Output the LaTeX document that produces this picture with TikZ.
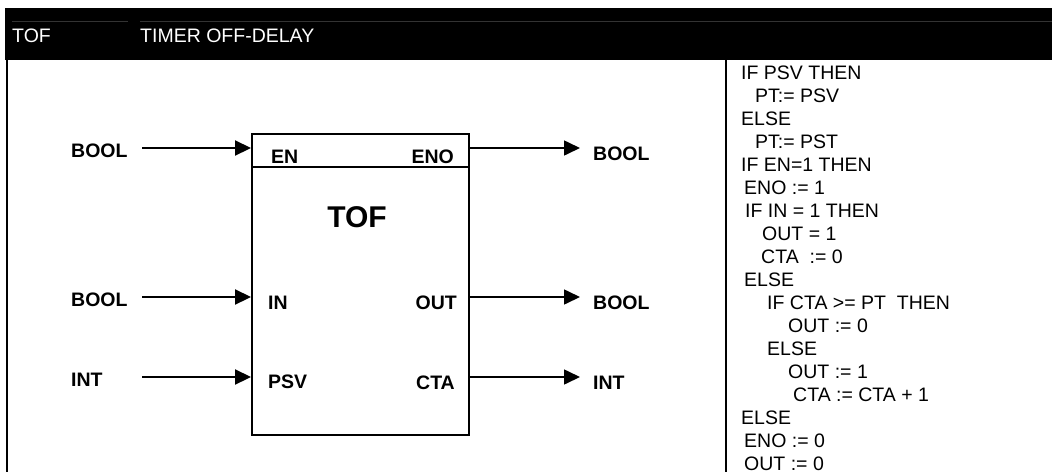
\documentclass[tikz,border=0pt]{standalone}
\usepackage{fontspec}
\setmainfont{Liberation Sans}
\usetikzlibrary{arrows.meta}

\begin{document}
\begin{tikzpicture}[x=1pt, y=-1pt, inner sep=0pt,
        every node/.append style={font=\fontsize{19.5}{23}\selectfont}]
      \tikzstyle{port} = [font=\fontsize{19.5}{23}\selectfont\bfseries, anchor=base west]
      \tikzstyle{portr} = [font=\fontsize{19.5}{23}\selectfont\bfseries, anchor=base east]
      \tikzstyle{inwire} = [line width=2.2pt, -{Triangle[length=16pt,width=15pt]}]
      \tikzstyle{outwire} = [line width=1.6pt, -{Triangle[length=16pt,width=15pt]}]
      \useasboundingbox (0,0) rectangle (1052,472);
      % header
      \fill[black] (5,8) rectangle (1052,60);
      \draw[gray!40!black, line width=0.8pt] (12,21) -- (128,21) (140,21) -- (1052,21);
      \node (hName) [white, anchor=base west] at (12,42) {TOF};
      \node (hTitle) [white, anchor=base west] at (140,42) {TIMER OFF-DELAY};
      % frame lines
      \draw[line width=2pt] (7,8) -- (7,472);
      \draw[line width=2pt] (726,60) -- (726,472);
      % function block
      \node (fb) [draw, line width=2pt, anchor=north west, minimum width=217pt, minimum height=301pt] at (251,133) {};
      \draw[line width=2pt] (fb.west |- 0,167) -- (fb.east |- 0,167);
      \node (fbName) [font=\fontsize{30}{30}\selectfont\bfseries, anchor=base] at (357,227) {TOF};
      \node (pEN) [port] at (271,163) {EN};
      \node (pIN) [port] at (268,309) {IN};
      \node (pPSV) [port] at (268,388) {PSV};
      \node (pENO) [portr] at (454,163) {ENO};
      \node (pOUT) [portr] at (457,309) {OUT};
      \node (pCTA) [portr] at (455,389) {CTA};
      % inputs
      \node (tEN) [port] at (71,157) {BOOL};
      \node (tIN) [port] at (71,306) {BOOL};
      \node (tPSV) [port] at (71,386) {INT};
      \coordinate (sEN) at (142,148);
      \coordinate (sIN) at (142,297);
      \coordinate (sPSV) at (142,377);
      \draw[inwire] (sEN) -- (sEN -| fb.west);
      \draw[inwire] (sIN) -- (sIN -| fb.west);
      \draw[inwire] (sPSV) -- (sPSV -| fb.west);
      % outputs
      \node (tENO) [port] at (593,160) {BOOL};
      \node (tOUT) [port] at (593,309) {BOOL};
      \node (tCTA) [port] at (593,389) {INT};
      \coordinate (eENO) at (580,148);
      \coordinate (eOUT) at (580,297);
      \coordinate (eCTA) at (580,377);
      \draw[outwire] (eENO -| fb.east) -- (eENO);
      \draw[outwire] (eOUT -| fb.east) -- (eOUT);
      \draw[outwire] (eCTA -| fb.east) -- (eCTA);
      % structured text
      \foreach \i/\x/\t in {0/741/IF PSV THEN, 1/755/PT:= PSV, 2/741/ELSE, 3/755/PT:= PST,
          4/741/IF EN=1 THEN, 5/744/ENO := 1, 6/745/IF IN = 1 THEN, 7/762/OUT = 1,
          8/761/CTA~~:= 0, 9/744/ELSE, 10/767/IF CTA >= PT~~THEN, 11/788/OUT := 0,
          12/767/ELSE, 13/788/OUT := 1, 14/793/CTA := CTA + 1, 15/741/ELSE,
          16/744/ENO := 0, 17/744/OUT := 0}
        \node (code\i) [anchor=base west] at (\x,79+23*\i) {\t};
    \end{tikzpicture}
\end{document}
